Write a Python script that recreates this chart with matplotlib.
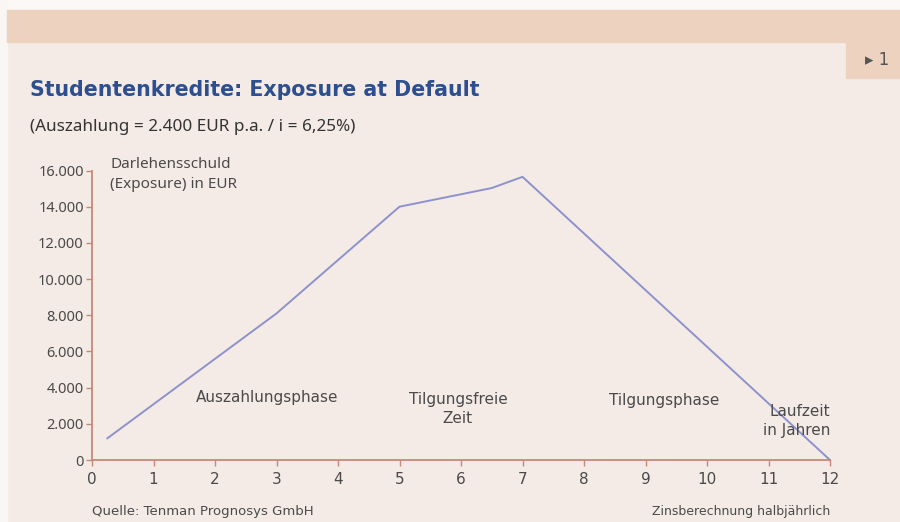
import matplotlib.pyplot as plt
from matplotlib.patches import Rectangle
from matplotlib.ticker import FuncFormatter

# Laufzeit in Jahren und Darlehensschuld in EUR
jahre = [0.25, 3, 5, 6.5, 7, 12]
schuld = [1200, 8100, 14000, 15030, 15650, 0]

x_ticks = list(range(0, 13))
y_ticks = list(range(0, 16001, 2000))

bg = '#f4ebe7'
tan = '#ecd2bf'
axis_col = '#c48a76'
txt_col = '#4a4a4a'
line_col = '#8e92cc'
title_col = '#2d4f8f'

sans = ['Noto Sans', 'DejaVu Sans']
cond = ['DejaVu Sans']

fig = plt.figure(figsize=(9, 5.22), dpi=100, facecolor=bg)

# Seitenrand und Kopfband
fig.patches.append(Rectangle((0, 1 - 10 / 522), 1, 10 / 522, transform=fig.transFigure,
                             color='#fbf8f6', zorder=0))
fig.patches.append(Rectangle((0, 0), 7 / 900, 1, transform=fig.transFigure,
                             color='#faf6f4', zorder=0))
fig.patches.append(Rectangle((7 / 900, 1 - 42 / 522), 1, 32 / 522, transform=fig.transFigure,
                             color=tan, zorder=0))
fig.patches.append(Rectangle((846 / 900, 1 - 78 / 522), 54 / 900, 36 / 522, transform=fig.transFigure,
                             color=tan, zorder=0))
fig.text(877 / 900, 1 - 60 / 522, '\u25b8 1', ha='center', va='center', fontsize=12,
         color='#555555', family=['DejaVu Sans'])

# Titel
fig.text(30 / 900, 1 - 90 / 522, 'Studentenkredite: Exposure at Default', ha='left', va='center',
         fontsize=14.8, fontweight='bold', color=title_col, family=['DejaVu Sans'])
fig.text(30 / 900, 1 - 127 / 522, '(Auszahlung = 2.400 EUR p.a. / i = 6,25%)', ha='left', va='center',
         fontsize=12.3, color='#333333', family=sans)

ax = fig.add_axes([92 / 900, 62 / 522, 738 / 900, 289.5 / 522])
ax.set_facecolor('none')
ax.plot(jahre, schuld, color=line_col, lw=1.4, solid_joinstyle='miter', clip_on=False)

ax.set_xlim(0, 12)
ax.set_ylim(0, 16000)
ax.set_xticks(x_ticks)
ax.set_yticks(y_ticks)
ax.yaxis.set_major_formatter(FuncFormatter(lambda v, p: f'{int(v):,}'.replace(',', '.')))

for s in ['top', 'right']:
    ax.spines[s].set_visible(False)
for s in ['left', 'bottom']:
    ax.spines[s].set_color(axis_col)
    ax.spines[s].set_linewidth(1.3)
ax.tick_params(axis='both', colors=axis_col, length=4, width=1, labelcolor=txt_col)
ax.tick_params(axis='y', labelsize=10.5, pad=2)
ax.tick_params(axis='x', labelsize=11, pad=5)
for lbl in ax.get_xticklabels():
    lbl.set_family(cond)
for lbl in ax.get_yticklabels():
    lbl.set_family(sans)

# Beschriftungen im Diagramm
ax.text(0.3, 15800, 'Darlehensschuld\n(Exposure) in EUR', ha='left', va='center', fontsize=11,
        color=txt_col, linespacing=1.45, family=sans)
ax.text(2.85, 3430, 'Auszahlungsphase', ha='center', va='center', fontsize=11, color=txt_col, family=cond)
ax.text(5.95, 2820, 'Tilgungsfreie\nZeit', ha='center', va='center', fontsize=11, color=txt_col,
        linespacing=1.3, family=cond)
ax.text(9.3, 3300, 'Tilgungsphase', ha='center', va='center', fontsize=11, color=txt_col, family=cond)
ax.text(12, 2150, 'Laufzeit\nin Jahren', ha='right', va='center', fontsize=11, color=txt_col,
        linespacing=1.3, family=cond)

fig.text(92 / 900, 1 - 511 / 522, 'Quelle: Tenman Prognosys GmbH', ha='left', va='center',
         fontsize=9.5, color=txt_col, family=cond)
fig.text(830 / 900, 1 - 511 / 522, 'Zinsberechnung halbjährlich', ha='right', va='center',
         fontsize=9, color=txt_col, family=cond)

fig.savefig('out.png', dpi=100, facecolor=bg)
